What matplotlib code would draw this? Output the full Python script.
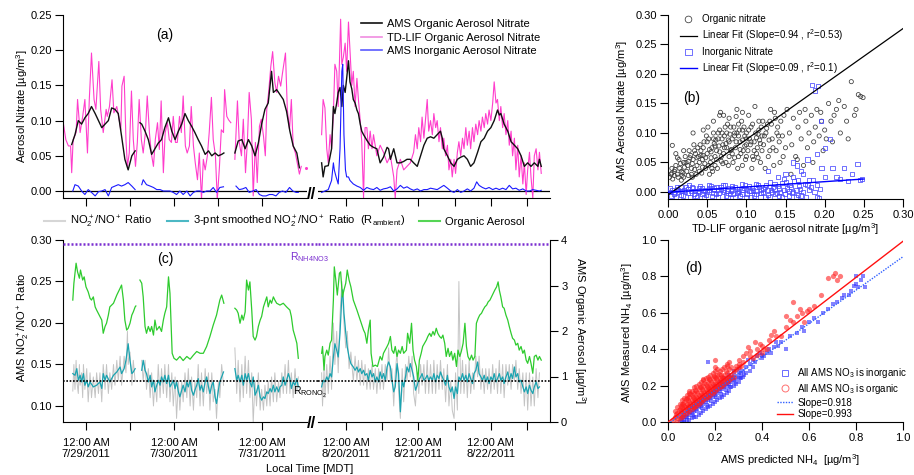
import numpy as np
import matplotlib
matplotlib.use('Agg')
import matplotlib.pyplot as plt
from matplotlib.lines import Line2D

plt.rcParams['font.family'] = ['Liberation Sans', 'DejaVu Sans']
plt.rcParams['mathtext.fontset'] = 'custom'
plt.rcParams['mathtext.rm'] = 'Liberation Sans'
plt.rcParams['mathtext.it'] = 'Liberation Sans:italic'
plt.rcParams['mathtext.bf'] = 'Liberation Sans:bold'
plt.rcParams['font.size'] = 8
plt.rcParams['axes.linewidth'] = 0.8

# ---------------- DATA ----------------
# times are hours relative to local midnight of first labelled day of each segment
left_tick_hours = [0, 12, 24, 36, 48]
left_tick_labels = ['12:00 AM\n7/29/2011', '', '12:00 AM\n7/30/2011', '', '12:00 AM\n7/31/2011']
right_tick_hours = [0, 12, 24, 36, 48, 60]
right_tick_labels = ['12:00 AM\n8/20/2011', '', '12:00 AM\n8/21/2011', '', '12:00 AM\n8/22/2011', '']

ams_org_left = [
    [(-3.9, 0.066), (-3.0, 0.080), (-2.1, 0.100), (-1.2, 0.095), (-0.3, 0.104), (0.6, 0.110), (1.5, 0.120),
     (2.5, 0.110), (3.4, 0.100), (4.3, 0.090), (5.2, 0.095), (6.1, 0.100), (7.0, 0.118), (7.9, 0.116),
     (8.8, 0.110), (9.7, 0.078), (10.6, 0.045), (11.5, 0.030), (12.5, 0.050), (13.4, 0.057)],
    [(14.7, 0.097), (15.2, 0.095), (16.1, 0.085), (17.0, 0.073), (17.9, 0.052), (18.8, 0.060), (19.7, 0.068),
     (20.6, 0.073), (21.5, 0.090), (22.5, 0.104), (23.4, 0.085), (24.3, 0.073), (25.2, 0.085), (26.1, 0.095),
     (27.0, 0.110), (27.9, 0.100), (28.8, 0.092), (29.7, 0.083), (30.6, 0.073), (31.5, 0.064), (32.5, 0.052),
     (33.4, 0.057), (34.3, 0.050), (35.2, 0.054), (36.1, 0.050), (37.0, 0.052), (37.6, 0.054)],
    [(40.6, 0.054), (41.5, 0.071), (42.5, 0.073), (43.4, 0.060), (44.3, 0.073), (45.2, 0.064), (46.1, 0.050),
     (47.0, 0.068), (47.9, 0.095), (48.8, 0.116), (49.7, 0.125), (50.6, 0.170), (51.1, 0.140), (52.0, 0.144),
     (52.9, 0.137), (53.8, 0.130), (54.7, 0.113), (55.6, 0.085), (56.5, 0.064), (57.5, 0.054), (58.2, 0.033)],
]
tdlif_left = [
    [(-6.2, 0.097), (-5.5, 0.073), (-4.8, 0.064), (-4.2, 0.064), (-3.9, 0.026), (-3.5, 0.073), (-2.7, 0.083),
     (-2.3, 0.130), (-1.6, 0.083), (-0.9, 0.106), (-0.3, 0.130), (0.4, 0.054), (0.9, 0.130), (1.5, 0.196),
     (2.2, 0.130), (2.7, 0.116), (3.5, 0.184), (4.0, 0.116), (4.7, 0.083), (5.5, 0.116), (5.8, 0.106),
     (6.4, 0.120), (7.1, 0.158), (7.6, 0.111), (8.4, 0.120), (8.9, 0.106), (9.5, 0.087), (9.8, 0.149),
     (10.4, 0.163), (10.9, 0.073), (11.3, 0.035), (11.8, 0.054), (12.4, 0.142), (12.9, 0.073), (13.5, 0.035),
     (14.0, 0.069), (14.5, 0.130), (15.1, 0.073), (15.6, 0.054), (16.2, 0.083), (16.7, 0.135), (17.3, 0.083),
     (17.8, 0.054), (18.4, 0.035), (18.9, 0.073), (19.5, 0.097), (20.0, 0.059), (20.5, 0.128), (21.1, 0.026),
     (21.6, 0.083), (22.2, 0.097), (22.7, 0.073), (23.3, 0.069), (23.8, 0.106), (24.4, 0.069), (24.9, 0.069),
     (25.5, 0.106), (26.0, 0.083), (26.5, 0.135), (27.1, 0.064), (27.6, 0.054), (28.2, 0.064), (28.7, 0.120),
     (29.3, 0.064), (29.8, 0.040), (30.4, 0.016), (30.9, 0.054), (31.5, -0.012), (32.0, 0.045), (32.5, 0.030),
     (33.1, 0.050), (33.6, 0.083), (34.2, 0.133), (34.7, 0.073), (35.3, 0.050), (35.8, -0.012), (36.4, 0.035),
     (36.9, 0.087), (37.5, 0.083), (37.8, 0.144), (38.4, 0.106), (38.9, 0.101), (39.5, 0.097)],
    [(40.6, 0.045), (41.3, 0.128), (41.8, 0.069), (42.4, 0.050), (42.9, 0.102), (43.5, 0.026), (44.0, 0.069),
     (44.5, 0.140), (45.1, 0.102), (45.6, -0.007), (46.2, 0.069), (46.7, 0.012), (47.3, 0.092), (47.8, 0.102),
     (48.4, 0.078), (48.9, 0.050), (49.3, 0.116), (49.8, 0.140), (50.4, 0.177), (50.9, 0.198), (51.5, 0.154),
     (52.0, 0.140), (52.5, 0.163), (53.1, 0.149), (53.6, 0.168), (54.4, 0.196), (54.9, 0.116), (55.5, 0.087),
     (56.0, 0.130), (56.5, 0.064), (57.1, 0.054), (57.6, 0.040), (58.2, 0.024), (58.7, 0.035)],
]
tdlif_left_dot = [(60.0, 0.033)]
ams_inorg_left = [
    [(-3.6, 0.000), (-3.0, 0.009), (-2.1, 0.007), (-1.2, 0.000), (-0.3, -0.005), (0.6, 0.002), (1.5, -0.002),
     (2.5, -0.007), (3.4, -0.001), (4.3, 0.000), (5.2, 0.002), (6.1, -0.007), (7.0, 0.005), (7.9, 0.007),
     (8.8, 0.009), (9.7, 0.007), (10.6, 0.009), (11.5, 0.012), (12.5, 0.007), (13.4, 0.002)],
    [(15.2, 0.009), (15.6, 0.016), (16.5, 0.009), (17.5, 0.007), (18.4, 0.005), (19.3, 0.002), (20.2, 0.002),
     (21.1, 0.000), (22.0, 0.000), (22.9, 0.000), (23.8, -0.002), (24.7, -0.005), (25.6, 0.000), (26.5, -0.005),
     (27.5, 0.000), (28.4, -0.007), (29.3, -0.002), (30.2, 0.000), (31.1, 0.000), (32.0, -0.002), (32.9, 0.000),
     (33.8, 0.000), (34.7, 0.005), (35.6, -0.002), (36.5, 0.005), (37.5, 0.006)],
    [(40.9, 0.007), (41.8, 0.002), (42.7, 0.003), (43.6, 0.005), (44.5, -0.002), (45.5, 0.000), (46.4, 0.002),
     (47.3, -0.005), (48.2, -0.007), (49.1, -0.007), (50.0, -0.005), (50.9, -0.005), (51.8, -0.007), (52.7, -0.002),
     (53.6, 0.000), (54.5, -0.002), (55.5, 0.005), (56.4, 0.000), (57.3, -0.002), (57.9, -0.002)],
]

ams_org_right = [[
    (-8.1, 0.040), (-7.6, 0.020), (-7.0, 0.035), (-5.9, 0.036), (-4.8, 0.060), (-4.2, 0.120), (-3.7, 0.110),
    (-3.1, 0.125), (-2.6, 0.140), (-2.0, 0.147), (-1.4, 0.120), (-0.9, 0.150), (-0.3, 0.140), (0.2, 0.160),
    (0.8, 0.185), (1.3, 0.155), (1.9, 0.145), (2.4, 0.130), (3.0, 0.125), (3.6, 0.115), (4.1, 0.110),
    (4.7, 0.095), (5.2, 0.085), (5.8, 0.080), (6.9, 0.072), (8.0, 0.065), (9.1, 0.062), (10.2, 0.060),
    (11.3, 0.040), (12.4, 0.048), (13.6, 0.062), (14.1, 0.060), (14.7, 0.045), (15.8, 0.060), (16.9, 0.040),
    (18.0, 0.040), (19.1, 0.042), (20.2, 0.045), (21.3, 0.045), (22.4, 0.040), (23.6, 0.035), (24.7, 0.050),
    (25.8, 0.065), (26.9, 0.075), (28.0, 0.077), (29.1, 0.075), (30.2, 0.080), (31.3, 0.085), (31.9, 0.075),
    (32.4, 0.060), (33.6, 0.050), (34.7, 0.040), (35.8, 0.035), (36.9, 0.045), (38.0, 0.048), (39.1, 0.050),
    (40.2, 0.045), (41.3, 0.035), (42.4, 0.040), (43.6, 0.055), (44.7, 0.070), (45.8, 0.075), (46.9, 0.085),
    (48.0, 0.090), (49.1, 0.100), (50.2, 0.115), (50.8, 0.108), (51.3, 0.110), (52.4, 0.095), (53.6, 0.085),
    (54.7, 0.070), (55.8, 0.065), (56.9, 0.060), (58.0, 0.050), (59.1, 0.035), (60.2, 0.040), (61.3, 0.035),
    (62.4, 0.040), (63.6, 0.035), (64.1, 0.045), (64.7, 0.035)]]
tdlif_right = [[
    (-8.1, 0.080), (-7.6, 0.130), (-7.0, 0.118), (-6.4, 0.060), (-5.9, 0.040), (-5.3, 0.080), (-4.8, 0.060),
    (-4.2, 0.110), (-3.7, 0.180), (-3.1, 0.170), (-2.6, 0.120), (-1.8, 0.244), (-1.4, 0.180), (-0.9, 0.190),
    (-0.3, 0.210), (0.2, 0.170), (0.8, 0.240), (1.3, 0.200), (1.9, 0.150), (2.4, 0.170), (3.0, 0.120),
    (3.6, 0.160), (4.1, 0.130), (4.7, 0.100), (5.2, 0.070), (5.8, -0.010), (6.3, 0.090), (6.9, 0.090),
    (7.4, 0.060), (8.0, 0.085), (8.6, 0.060), (9.1, 0.080), (10.2, 0.050), (11.3, 0.065), (12.4, 0.055),
    (13.6, 0.040), (14.7, 0.050), (15.8, 0.020), (16.3, -0.010), (16.9, 0.030), (18.0, 0.045), (19.1, 0.030),
    (20.2, 0.035), (21.3, 0.040), (22.4, 0.055), (23.0, 0.080), (23.6, 0.060), (24.1, 0.090), (24.7, 0.070),
    (25.2, 0.105), (25.8, 0.075), (26.3, 0.100), (26.9, 0.130), (27.4, 0.085), (28.0, 0.100), (28.6, 0.080),
    (29.1, 0.110), (29.7, 0.090), (30.2, 0.100), (30.8, 0.070), (31.3, 0.090), (31.9, 0.060), (32.4, 0.075),
    (33.0, 0.050), (33.6, 0.065), (34.1, 0.030), (34.7, 0.045), (35.2, 0.020), (35.8, 0.045), (36.3, 0.025),
    (36.9, 0.055), (37.4, 0.070), (38.0, 0.050), (38.6, 0.075), (39.1, 0.060), (39.7, 0.090), (40.2, 0.065),
    (40.8, 0.085), (41.3, 0.060), (41.9, 0.090), (42.4, 0.070), (43.0, 0.095), (43.6, 0.080), (44.1, 0.100),
    (44.7, 0.085), (45.2, 0.105), (45.8, 0.090), (46.3, 0.110), (46.9, 0.095), (47.4, 0.115), (48.0, 0.100),
    (48.6, 0.125), (49.1, 0.155), (49.7, 0.125), (50.2, 0.130), (50.8, 0.100), (51.3, 0.120), (51.9, 0.090),
    (52.4, 0.110), (53.0, 0.080), (53.6, 0.100), (54.1, 0.065), (54.7, 0.085), (55.2, 0.050), (55.8, 0.075),
    (56.3, 0.030), (56.9, 0.065), (57.4, 0.020), (58.0, 0.050), (58.6, 0.010), (59.1, 0.040), (59.7, -0.005),
    (60.2, 0.030), (60.8, 0.055), (61.3, 0.020), (61.9, -0.010), (62.4, 0.050), (63.0, 0.060), (63.6, 0.030),
    (64.1, 0.055), (64.7, 0.025)]]
ams_inorg_right = [[
    (-8.1, -0.002), (-7.0, 0.000), (-5.9, 0.002), (-4.8, 0.015), (-4.2, 0.040), (-3.9, 0.030), (-3.3, 0.020),
    (-2.6, 0.010), (-2.0, 0.060), (-1.4, 0.170), (-1.1, 0.180), (-0.7, 0.080), (-0.2, 0.030), (0.2, 0.020),
    (0.8, 0.020), (1.3, 0.015), (2.4, 0.010), (3.6, 0.007), (4.7, 0.005), (5.8, 0.001), (6.9, 0.005),
    (8.0, 0.003), (9.1, 0.002), (10.2, 0.005), (11.3, 0.001), (12.4, 0.003), (13.6, 0.004), (14.7, 0.006),
    (15.8, 0.000), (16.9, 0.003), (18.0, 0.008), (19.1, 0.004), (20.2, 0.006), (21.3, 0.003), (22.4, 0.001),
    (23.6, 0.003), (24.7, 0.000), (25.8, 0.002), (26.9, 0.002), (28.0, 0.004), (29.1, 0.003), (30.2, 0.002),
    (31.3, 0.005), (32.4, 0.008), (33.6, 0.004), (34.7, 0.000), (35.8, -0.002), (36.9, 0.002), (38.0, -0.002),
    (39.1, 0.000), (40.2, 0.003), (41.3, 0.000), (42.4, 0.004), (43.3, 0.013), (44.1, 0.008), (45.2, 0.005),
    (46.3, 0.003), (47.4, 0.005), (48.6, 0.002), (49.7, 0.004), (50.8, 0.002), (51.9, 0.004), (53.0, 0.002),
    (54.1, 0.008), (55.2, 0.003), (56.3, 0.004), (57.4, 0.001), (58.6, 0.003), (59.7, 0.000), (60.8, 0.000),
    (61.9, 0.002), (63.0, 0.001), (64.1, 0.000), (64.7, 0.001)]]

# panel (c)
oa_left = [
    [(-3.6, 2.68), (-3.3, 3.05), (-2.7, 3.49), (-2.3, 3.30), (-1.8, 3.16), (-1.5, 3.34), (-0.9, 3.12),
     (-0.5, 3.19), (0.0, 2.97), (0.6, 2.86), (1.1, 2.72), (1.5, 2.68), (2.0, 2.75), (2.5, 2.53), (2.9, 2.46),
     (3.6, 2.35), (4.3, 2.24), (4.7, 1.95), (5.2, 2.10), (5.6, 2.17), (6.1, 2.35), (6.5, 2.53), (7.5, 2.61),
     (8.4, 2.79), (9.3, 2.94), (9.7, 3.01), (10.2, 2.68), (10.6, 2.24), (11.1, 2.02), (11.5, 2.06), (12.0, 2.17),
     (12.5, 2.35), (12.9, 2.42), (13.4, 2.53), (13.6, 2.55)],
    [(14.7, 3.12), (15.2, 3.05), (15.6, 2.75), (16.1, 2.10), (16.5, 1.95), (17.0, 2.10), (17.5, 1.99),
     (17.9, 2.10), (18.4, 1.91), (18.8, 2.24), (19.3, 2.02), (20.0, 2.10), (20.6, 1.99), (21.1, 2.24),
     (21.5, 2.39), (22.0, 2.53), (22.5, 3.19), (22.9, 2.83), (23.1, 2.39), (23.5, 1.51), (24.0, 1.40),
     (24.7, 1.36), (25.6, 1.44), (26.5, 1.35), (27.5, 1.44), (28.4, 1.38), (29.3, 1.47), (30.2, 1.55),
     (31.1, 1.51), (32.0, 1.51), (32.9, 1.66), (33.8, 1.88), (34.7, 2.13), (35.6, 2.35), (36.5, 2.68),
     (37.0, 2.79), (37.6, 2.61)],
    [(40.6, 2.50), (41.1, 2.46), (41.5, 2.39), (42.0, 2.17), (42.5, 2.35), (42.9, 2.24), (43.4, 2.42),
     (43.8, 3.12), (44.3, 2.90), (44.7, 3.08), (45.2, 2.46), (45.6, 1.88), (46.1, 1.80), (46.5, 1.88),
     (47.0, 2.10), (47.5, 2.24), (47.9, 2.32), (48.4, 2.53), (49.3, 2.75), (49.7, 2.53), (50.2, 2.68),
     (50.6, 2.61), (51.1, 2.75), (51.5, 2.68), (52.0, 2.61), (52.9, 2.57), (53.8, 2.61), (54.7, 2.53),
     (55.6, 2.46), (56.0, 2.32), (56.5, 2.02), (57.0, 1.88), (57.5, 1.73), (57.9, 1.40)],
]
ratio_smooth_left = [
    [(-3.6, 0.139), (-3.0, 0.137), (-2.5, 0.145), (-2.1, 0.131), (-1.6, 0.137), (-1.2, 0.129), (-0.7, 0.139),
     (-0.3, 0.125), (0.2, 0.131), (0.6, 0.123), (1.1, 0.129), (2.0, 0.123), (2.9, 0.125), (3.8, 0.129),
     (4.3, 0.121), (4.7, 0.139), (5.2, 0.131), (5.6, 0.137), (6.5, 0.129), (7.5, 0.137), (8.4, 0.141),
     (9.3, 0.147), (9.7, 0.139), (10.4, 0.145), (10.9, 0.155), (11.5, 0.175), (12.0, 0.155), (12.5, 0.139),
     (12.9, 0.141), (13.4, 0.145)],
    [(15.2, 0.143), (15.6, 0.155), (16.1, 0.143), (16.5, 0.139), (17.0, 0.129), (17.5, 0.137), (17.9, 0.123),
     (18.4, 0.131), (18.8, 0.117), (19.3, 0.125), (19.7, 0.131), (20.2, 0.125), (20.6, 0.135), (21.1, 0.129),
     (21.5, 0.137), (22.0, 0.127), (22.5, 0.137), (22.9, 0.123), (23.4, 0.127), (23.8, 0.131), (24.3, 0.121),
     (24.7, 0.129), (25.2, 0.117), (25.6, 0.111), (26.1, 0.119), (26.5, 0.125), (27.0, 0.117), (27.5, 0.129),
     (27.9, 0.123), (28.4, 0.131), (28.8, 0.119), (29.3, 0.113), (29.7, 0.119), (30.2, 0.125), (30.6, 0.133),
     (31.1, 0.119), (31.5, 0.125), (32.0, 0.117), (32.5, 0.129), (32.9, 0.135), (33.4, 0.123), (33.8, 0.115),
     (34.3, 0.125), (34.7, 0.129), (35.2, 0.111), (35.6, 0.103), (36.1, 0.119), (36.5, 0.129), (37.0, 0.135),
     (37.5, 0.141)],
    [(40.6, 0.145), (41.1, 0.131), (41.5, 0.137), (42.0, 0.129), (42.5, 0.137), (42.9, 0.125), (43.4, 0.139),
     (43.8, 0.131), (44.3, 0.139), (44.7, 0.129), (45.2, 0.123), (45.6, 0.135), (46.1, 0.113), (46.5, 0.117),
     (47.0, 0.125), (47.5, 0.111), (47.9, 0.107), (48.4, 0.111), (48.8, 0.109), (49.3, 0.117), (49.7, 0.115),
     (50.2, 0.121), (50.6, 0.117), (51.1, 0.125), (51.5, 0.117), (52.0, 0.123), (52.5, 0.117), (52.9, 0.123),
     (53.4, 0.125), (53.8, 0.135), (54.3, 0.125), (54.7, 0.131), (55.2, 0.139), (55.6, 0.133), (56.0, 0.121),
     (56.5, 0.129), (57.0, 0.125), (57.5, 0.133), (57.9, 0.123)],
]
ratio_raw_left = [
    [(-3.6, 0.118), (-3.3, 0.150), (-3.0, 0.120), (-2.7, 0.155), (-2.5, 0.130), (-2.1, 0.115), (-1.8, 0.150),
     (-1.6, 0.125), (-1.2, 0.140), (-0.9, 0.110), (-0.7, 0.150), (-0.3, 0.120), (0.2, 0.145), (0.6, 0.105),
     (1.1, 0.140), (1.5, 0.110), (2.0, 0.135), (2.5, 0.110), (2.9, 0.140), (3.4, 0.115), (3.8, 0.140),
     (4.3, 0.105), (4.7, 0.150), (5.2, 0.120), (5.6, 0.150), (6.1, 0.115), (6.5, 0.140), (7.0, 0.120),
     (7.5, 0.150), (7.9, 0.125), (8.4, 0.155), (8.8, 0.130), (9.3, 0.160), (9.7, 0.125), (10.4, 0.160),
     (10.9, 0.140), (11.3, 0.190), (11.5, 0.150), (12.0, 0.165), (12.5, 0.125), (12.9, 0.155), (13.4, 0.130)],
    [(15.2, 0.155), (15.6, 0.130), (16.1, 0.155), (16.5, 0.120), (17.0, 0.145), (17.5, 0.110), (17.9, 0.140),
     (18.4, 0.100), (18.8, 0.130), (19.3, 0.105), (19.7, 0.150), (20.2, 0.110), (20.6, 0.145), (21.1, 0.115),
     (21.5, 0.150), (22.0, 0.110), (22.5, 0.150), (22.9, 0.105), (23.4, 0.140), (23.8, 0.100), (24.3, 0.135),
     (24.7, 0.085), (25.2, 0.130), (25.6, 0.095), (26.1, 0.130), (26.5, 0.105), (27.0, 0.140), (27.5, 0.110),
     (27.9, 0.145), (28.4, 0.100), (28.8, 0.135), (29.3, 0.095), (29.7, 0.130), (30.2, 0.110), (30.6, 0.150),
     (31.1, 0.100), (31.5, 0.140), (32.0, 0.100), (32.5, 0.145), (32.9, 0.115), (33.4, 0.140), (33.8, 0.095),
     (34.3, 0.140), (34.7, 0.105), (35.2, 0.120), (35.6, 0.085), (36.1, 0.130), (36.5, 0.110), (37.0, 0.150),
     (37.5, 0.125)],
    [(40.6, 0.170), (41.1, 0.115), (41.5, 0.155), (42.0, 0.105), (42.5, 0.150), (42.9, 0.110), (43.4, 0.160),
     (43.8, 0.115), (44.3, 0.155), (44.7, 0.110), (45.2, 0.140), (45.6, 0.080), (46.1, 0.130), (46.5, 0.100),
     (47.0, 0.140), (47.5, 0.095), (47.9, 0.120), (48.4, 0.095), (48.8, 0.125), (49.3, 0.100), (49.7, 0.130),
     (50.2, 0.100), (50.6, 0.135), (51.1, 0.105), (51.5, 0.140), (52.0, 0.105), (52.5, 0.130), (52.9, 0.110),
     (53.4, 0.140), (53.8, 0.115), (54.3, 0.150), (54.7, 0.115), (55.2, 0.155), (55.6, 0.115), (56.0, 0.140),
     (56.5, 0.110), (57.0, 0.145), (57.5, 0.115), (57.9, 0.135)],
]
oa_right = [[
    (-8.1, 1.51), (-7.8, 1.66), (-7.3, 1.14), (-7.0, 1.44), (-6.4, 1.58), (-5.9, 1.47), (-5.3, 1.73),
    (-4.8, 1.80), (-4.2, 2.68), (-3.9, 3.41), (-3.4, 3.12), (-2.9, 2.79), (-2.2, 3.27), (-1.8, 3.30),
    (-1.2, 2.75), (-0.7, 2.90), (-0.1, 3.05), (0.4, 3.34), (1.0, 3.12), (1.6, 2.97), (2.4, 2.68), (3.6, 2.46),
    (4.7, 2.24), (5.8, 2.02), (6.3, 1.95), (6.9, 1.73), (7.4, 2.02), (8.0, 2.24), (8.3, 1.51), (8.9, 1.22),
    (9.7, 1.25), (10.4, 1.22), (11.3, 1.44), (11.9, 1.36), (12.4, 1.51), (13.6, 1.66), (14.1, 1.73),
    (14.7, 1.88), (15.2, 1.58), (15.8, 1.51), (16.3, 1.66), (16.9, 1.44), (17.4, 1.58), (18.0, 1.51),
    (18.6, 1.66), (19.1, 1.51), (20.0, 1.58), (20.4, 1.95), (21.1, 1.73), (21.7, 2.17), (22.2, 1.58),
    (22.7, 1.36), (23.3, 1.22), (23.8, 0.92), (24.3, 1.36), (24.9, 1.51), (25.4, 1.66), (26.0, 1.73),
    (26.6, 1.80), (27.1, 1.88), (27.7, 1.95), (28.2, 1.88), (28.8, 1.99), (29.3, 1.91), (29.9, 2.06),
    (30.4, 1.95), (31.0, 1.88), (31.6, 1.84), (32.1, 1.91), (32.7, 1.73), (33.2, 1.44), (33.8, 1.62),
    (34.3, 1.44), (34.9, 1.55), (35.4, 1.36), (36.0, 1.51), (36.6, 1.22), (37.1, 1.58), (37.7, 1.44),
    (38.2, 1.55), (38.8, 1.73), (39.4, 2.17), (39.9, 1.66), (40.4, 1.44), (41.0, 1.36), (41.6, 1.47),
    (42.1, 1.36), (42.7, 1.44), (43.2, 2.17), (43.8, 2.28), (44.3, 2.35), (44.9, 2.39), (45.4, 2.46),
    (46.0, 2.53), (46.6, 2.57), (47.1, 2.64), (47.7, 2.68), (48.2, 2.75), (48.8, 2.83), (49.3, 2.90),
    (49.9, 2.97), (50.4, 3.08), (50.8, 2.90), (51.3, 2.75), (51.9, 2.53), (52.4, 2.50), (53.0, 2.35),
    (53.6, 2.24), (54.1, 2.10), (54.7, 1.95), (55.2, 1.84), (55.8, 1.80), (56.3, 1.69), (56.9, 1.73),
    (57.4, 1.58), (58.0, 1.66), (58.6, 1.51), (59.1, 1.58), (59.7, 1.36), (60.2, 1.29), (60.8, 1.44),
    (61.3, 1.29), (61.9, 1.07), (62.4, 1.44), (63.0, 1.47), (63.6, 1.36), (64.1, 1.44), (64.7, 1.36)]]
ratio_smooth_right = [[
    (-8.1, 0.123), (-7.6, 0.131), (-7.0, 0.129), (-6.4, 0.135), (-5.9, 0.131), (-5.3, 0.139), (-4.8, 0.135),
    (-4.2, 0.159), (-3.7, 0.175), (-3.1, 0.167), (-2.6, 0.159), (-2.0, 0.188), (-1.4, 0.232), (-1.1, 0.240),
    (-0.7, 0.212), (-0.1, 0.188), (0.4, 0.171), (1.0, 0.159), (1.6, 0.151), (2.4, 0.147), (3.0, 0.143),
    (3.6, 0.147), (4.1, 0.141), (4.7, 0.145), (5.2, 0.139), (5.8, 0.143), (6.3, 0.137), (6.9, 0.139),
    (7.4, 0.131), (8.0, 0.143), (8.6, 0.135), (9.1, 0.139), (9.7, 0.129), (10.2, 0.135), (10.8, 0.129),
    (11.3, 0.141), (11.9, 0.133), (12.4, 0.139), (13.0, 0.131), (13.6, 0.147), (14.1, 0.153), (14.7, 0.147),
    (15.2, 0.131), (15.8, 0.117), (16.3, 0.123), (16.9, 0.151), (17.4, 0.139), (18.0, 0.093), (18.6, 0.131),
    (19.1, 0.123), (19.7, 0.135), (20.2, 0.147), (20.8, 0.141), (21.3, 0.151), (21.9, 0.143), (22.4, 0.135),
    (23.0, 0.119), (23.6, 0.125), (24.1, 0.131), (24.7, 0.135), (25.2, 0.139), (25.8, 0.131), (26.3, 0.133),
    (26.9, 0.137), (27.4, 0.131), (28.0, 0.135), (28.6, 0.131), (29.1, 0.139), (29.7, 0.129), (30.2, 0.137),
    (30.8, 0.133), (31.3, 0.141), (31.9, 0.135), (32.4, 0.131), (33.0, 0.125), (33.6, 0.137), (34.1, 0.123),
    (34.7, 0.117), (35.2, 0.123), (35.8, 0.109), (36.3, 0.123), (36.9, 0.115), (37.4, 0.135), (38.0, 0.131),
    (38.6, 0.139), (39.1, 0.131), (39.7, 0.137), (40.2, 0.129), (40.8, 0.139), (41.3, 0.133), (41.9, 0.127),
    (42.4, 0.139), (43.0, 0.143), (43.6, 0.153), (44.1, 0.139), (44.7, 0.135), (45.2, 0.131), (45.8, 0.137),
    (46.3, 0.129), (46.9, 0.135), (47.4, 0.127), (48.0, 0.135), (48.6, 0.131), (49.1, 0.139), (49.7, 0.129),
    (50.2, 0.133), (50.8, 0.139), (51.3, 0.131), (51.9, 0.135), (52.4, 0.127), (53.0, 0.135), (53.6, 0.141),
    (54.1, 0.131), (54.7, 0.139), (55.2, 0.133), (55.8, 0.147), (56.3, 0.135), (56.9, 0.139), (57.4, 0.129),
    (58.0, 0.131), (58.6, 0.123), (59.1, 0.117), (59.7, 0.123), (60.2, 0.115), (60.8, 0.125), (61.3, 0.119),
    (61.9, 0.115), (62.4, 0.123), (63.0, 0.129), (63.6, 0.121), (64.1, 0.123)]]
ratio_raw_right = [[
    (-8.1, 0.140), (-7.8, 0.100), (-7.3, 0.145), (-7.0, 0.110), (-6.4, 0.150), (-5.9, 0.115), (-5.3, 0.160),
    (-4.8, 0.120), (-4.2, 0.200), (-3.7, 0.150), (-3.1, 0.190), (-2.6, 0.140), (-2.0, 0.210), (-1.4, 0.250),
    (-1.1, 0.230), (-0.7, 0.200), (-0.1, 0.170), (0.4, 0.190), (1.0, 0.145), (1.6, 0.165), (2.4, 0.130),
    (3.0, 0.160), (3.6, 0.130), (4.1, 0.155), (4.7, 0.125), (5.2, 0.155), (5.8, 0.125), (6.3, 0.150),
    (6.9, 0.120), (7.4, 0.145), (8.0, 0.120), (8.6, 0.150), (9.1, 0.120), (9.7, 0.145), (10.2, 0.115),
    (10.8, 0.145), (11.3, 0.120), (11.9, 0.150), (12.4, 0.120), (13.0, 0.150), (13.6, 0.130), (14.1, 0.170),
    (14.7, 0.130), (15.2, 0.145), (15.8, 0.100), (16.3, 0.140), (16.9, 0.165), (17.4, 0.120), (18.0, 0.085),
    (18.6, 0.145), (19.1, 0.105), (19.7, 0.150), (20.2, 0.130), (20.8, 0.160), (21.3, 0.135), (21.9, 0.160),
    (22.4, 0.115), (23.0, 0.100), (23.6, 0.140), (24.1, 0.115), (24.7, 0.150), (25.2, 0.125), (25.8, 0.150),
    (26.3, 0.115), (26.9, 0.155), (27.4, 0.115), (28.0, 0.150), (28.6, 0.115), (29.1, 0.155), (29.7, 0.115),
    (30.2, 0.150), (30.8, 0.120), (31.3, 0.155), (31.9, 0.120), (32.4, 0.145), (33.0, 0.105), (33.6, 0.150),
    (34.1, 0.100), (34.7, 0.130), (35.2, 0.095), (35.8, 0.085), (36.3, 0.140), (36.9, 0.095), (37.4, 0.250),
    (38.0, 0.115), (38.6, 0.155), (39.1, 0.115), (39.7, 0.150), (40.2, 0.110), (40.8, 0.155), (41.3, 0.115),
    (41.9, 0.140), (42.4, 0.120), (43.0, 0.160), (43.6, 0.135), (44.1, 0.160), (44.7, 0.120), (45.2, 0.145),
    (45.8, 0.115), (46.3, 0.145), (46.9, 0.120), (47.4, 0.145), (48.0, 0.115), (48.6, 0.150), (49.1, 0.120),
    (49.7, 0.145), (50.2, 0.115), (50.8, 0.155), (51.3, 0.115), (51.9, 0.150), (52.4, 0.110), (53.0, 0.150),
    (53.6, 0.125), (54.1, 0.150), (54.7, 0.120), (55.2, 0.150), (55.8, 0.130), (56.3, 0.155), (56.9, 0.120),
    (57.4, 0.145), (58.0, 0.115), (58.6, 0.140), (59.1, 0.100), (59.7, 0.140), (60.2, 0.095), (60.8, 0.140),
    (61.3, 0.100), (61.9, 0.135), (62.4, 0.100), (63.0, 0.145), (63.6, 0.110), (64.1, 0.140)]]
r_nh4no3 = 0.295
r_rono2 = 0.13

# panel (b) scatter: (TD-LIF organic nitrate, AMS nitrate)
org_nitrate_pts = [
    (0.002, 0.025), (0.004, 0.030), (0.006, 0.022), (0.008, 0.035), (0.0055, 0.079), (0.010, 0.065), (0.012, 0.030),
    (0.015, 0.040), (0.018, 0.028), (0.020, 0.050), (0.010, 0.045), (0.005, 0.040), (0.014, 0.055), (0.017, 0.035),
    (0.020, 0.025), (0.008, 0.028), (0.022, 0.060), (0.025, 0.045), (0.027, 0.070), (0.030, 0.040), (0.032, 0.055),
    (0.035, 0.065), (0.036, 0.030), (0.038, 0.075), (0.040, 0.050), (0.024, 0.035), (0.029, 0.062), (0.033, 0.080),
    (0.037, 0.045), (0.031, 0.025), (0.026, 0.052), (0.039, 0.060), (0.021, 0.042), (0.034, 0.038), (0.042, 0.070),
    (0.044, 0.055), (0.046, 0.085), (0.048, 0.040), (0.050, 0.065), (0.052, 0.090), (0.054, 0.050), (0.056, 0.075),
    (0.058, 0.100), (0.060, 0.060), (0.043, 0.032), (0.047, 0.048), (0.051, 0.110), (0.053, 0.072), (0.057, 0.035),
    (0.059, 0.082), (0.045, 0.062), (0.055, 0.058), (0.049, 0.095), (0.041, 0.080), (0.060, 0.045), (0.053, 0.030),
    (0.062, 0.070), (0.064, 0.090), (0.066, 0.105), (0.068, 0.060), (0.070, 0.080), (0.072, 0.095), (0.074, 0.050),
    (0.076, 0.115), (0.078, 0.085), (0.080, 0.070), (0.063, 0.040), (0.067, 0.135), (0.069, 0.100), (0.071, 0.065),
    (0.073, 0.110), (0.075, 0.075), (0.077, 0.045), (0.079, 0.098), (0.065, 0.078), (0.071, 0.130), (0.061, 0.088),
    (0.074, 0.082), (0.078, 0.060), (0.068, 0.052), (0.082, 0.090), (0.084, 0.110), (0.086, 0.075), (0.088, 0.100),
    (0.090, 0.060), (0.092, 0.085), (0.094, 0.120), (0.096, 0.070), (0.098, 0.095), (0.100, 0.080), (0.083, 0.050),
    (0.087, 0.128), (0.089, 0.040), (0.091, 0.105), (0.093, 0.065), (0.095, 0.088), (0.097, 0.110), (0.099, 0.055),
    (0.085, 0.095), (0.081, 0.072), (0.090, 0.115), (0.100, 0.100), (0.095, 0.045), (0.102, 0.070), (0.104, 0.090),
    (0.106, 0.110), (0.108, 0.060), (0.110, 0.085), (0.112, 0.100), (0.114, 0.075), (0.116, 0.120), (0.118, 0.050),
    (0.120, 0.095), (0.103, 0.130), (0.107, 0.040), (0.111, 0.145), (0.113, 0.065), (0.117, 0.088), (0.119, 0.110),
    (0.105, 0.080), (0.115, 0.098), (0.109, 0.055), (0.120, 0.070), (0.122, 0.080), (0.125, 0.100), (0.128, 0.060),
    (0.130, 0.120), (0.133, 0.090), (0.136, 0.135), (0.138, 0.070), (0.140, 0.110), (0.143, 0.050), (0.146, 0.095),
    (0.148, 0.130), (0.150, 0.075), (0.124, 0.040), (0.131, 0.140), (0.135, 0.045), (0.142, 0.085), (0.147, 0.060),
    (0.127, 0.115), (0.139, 0.100), (0.152, 0.140), (0.155, 0.100), (0.158, 0.080), (0.160, 0.125), (0.163, 0.060),
    (0.166, 0.110), (0.168, 0.135), (0.170, 0.090), (0.173, 0.045), (0.176, 0.120), (0.178, 0.075), (0.180, 0.100),
    (0.183, 0.130), (0.186, 0.085), (0.188, 0.110), (0.190, 0.140), (0.193, 0.095), (0.196, 0.120), (0.198, 0.070),
    (0.200, 0.105), (0.157, 0.030), (0.165, 0.055), (0.175, 0.140), (0.185, 0.050), (0.195, 0.135), (0.205, 0.150),
    (0.208, 0.120), (0.212, 0.130), (0.215, 0.140), (0.220, 0.100), (0.225, 0.145), (0.230, 0.090), (0.234, 0.187),
    (0.238, 0.130), (0.240, 0.140), (0.243, 0.165), (0.246, 0.162), (0.249, 0.160), (0.210, 0.085), (0.202, 0.090),
    (0.218, 0.155), (0.228, 0.120),
    (0.005, 0.032), (0.009, 0.038), (0.013, 0.025), (0.016, 0.048), (0.019, 0.033), (0.023, 0.050), (0.026, 0.028),
    (0.028, 0.058), (0.031, 0.048), (0.034, 0.070), (0.037, 0.058), (0.040, 0.035), (0.042, 0.062), (0.045, 0.075),
    (0.048, 0.058), (0.050, 0.085), (0.052, 0.045), (0.055, 0.068), (0.058, 0.090), (0.060, 0.078), (0.062, 0.055),
    (0.064, 0.100), (0.066, 0.068), (0.069, 0.090), (0.072, 0.075), (0.075, 0.100), (0.077, 0.088), (0.080, 0.110),
    (0.082, 0.065), (0.085, 0.100), (0.087, 0.085), (0.090, 0.095), (0.092, 0.072), (0.095, 0.105), (0.098, 0.078),
    (0.100, 0.090), (0.103, 0.105), (0.106, 0.085), (0.108, 0.115), (0.110, 0.070), (0.113, 0.092), (0.116, 0.105),
    (0.118, 0.082), (0.121, 0.120), (0.123, 0.095), (0.126, 0.108), (0.129, 0.088), (0.132, 0.115), (0.134, 0.075),
    (0.137, 0.125), (0.141, 0.095), (0.144, 0.120), (0.032, 0.100), (0.045, 0.105), (0.058, 0.120), (0.066, 0.130),
    (0.078, 0.125), (0.088, 0.140), (0.095, 0.135), (0.012, 0.058), (0.020, 0.070), (0.017, 0.020), (0.030, 0.030),
    (0.044, 0.042), (0.056, 0.040), (0.070, 0.048), (0.085, 0.058), (0.100, 0.060), (0.115, 0.058), (0.130, 0.070)]
inorg_nitrate_pts = [
    (0.002, 0.000), (0.005, 0.003), (0.008, -0.003), (0.011, 0.005), (0.014, 0.000), (0.017, -0.005), (0.020, 0.004),
    (0.023, 0.008), (0.026, -0.002), (0.029, 0.002), (0.032, 0.006), (0.035, -0.006), (0.038, 0.001), (0.041, 0.010),
    (0.044, -0.003), (0.047, 0.004), (0.050, 0.000), (0.053, 0.007), (0.056, -0.007), (0.059, 0.003), (0.062, 0.009),
    (0.065, -0.002), (0.068, 0.005), (0.071, 0.000), (0.074, -0.006), (0.077, 0.006), (0.080, 0.002), (0.083, -0.004),
    (0.086, 0.008), (0.089, 0.000), (0.092, -0.007), (0.095, 0.004), (0.098, 0.011), (0.101, -0.003), (0.104, 0.002),
    (0.107, 0.007), (0.110, -0.006), (0.113, 0.001), (0.116, 0.009), (0.119, -0.002), (0.122, 0.005), (0.125, 0.012),
    (0.128, -0.005), (0.131, 0.003), (0.134, 0.008), (0.137, -0.003), (0.140, 0.010), (0.143, 0.000), (0.146, 0.015),
    (0.149, -0.004), (0.152, 0.006), (0.155, 0.012), (0.158, -0.002), (0.161, 0.018), (0.164, 0.003), (0.167, 0.010),
    (0.170, -0.006), (0.175, 0.014), (0.180, 0.004), (0.185, 0.020), (0.190, -0.008), (0.193, -0.010),
    (0.004, -0.006), (0.012, 0.008), (0.018, 0.002), (0.027, 0.012), (0.033, -0.004), (0.040, 0.006), (0.046, -0.008),
    (0.052, 0.012), (0.058, -0.002), (0.064, 0.004), (0.070, 0.011), (0.076, -0.009), (0.082, 0.006), (0.088, -0.002),
    (0.094, 0.013), (0.100, 0.005), (0.106, -0.008), (0.112, 0.014), (0.118, 0.004), (0.124, -0.008), (0.130, 0.016),
    (0.136, 0.006), (0.142, -0.007), (0.148, 0.022), (0.154, 0.001), (0.160, 0.025), (0.166, -0.005), (0.172, 0.030),
    (0.178, 0.012), (0.184, 0.182), (0.188, 0.172), (0.192, 0.180), (0.195, 0.120), (0.200, 0.075), (0.207, 0.090),
    (0.128, 0.035), (0.160, 0.050), (0.165, 0.045), (0.178, 0.055), (0.200, 0.025), (0.210, 0.040), (0.215, 0.025),
    (0.235, 0.030), (0.242, 0.047), (0.245, 0.020), (0.220, 0.022), (0.230, 0.018), (0.248, 0.022), (0.190, 0.065),
    (0.196, 0.040), (0.225, 0.040), (0.150, 0.030), (0.140, 0.025), (0.170, 0.035),
    (0.003, 0.006), (0.007, 0.000), (0.010, -0.008), (0.013, 0.004), (0.016, 0.009), (0.019, -0.006), (0.022, 0.000),
    (0.025, 0.005), (0.028, -0.008), (0.031, 0.009), (0.034, 0.002), (0.037, -0.009), (0.040, 0.000), (0.043, 0.007),
    (0.046, 0.001), (0.049, -0.005), (0.052, 0.003), (0.055, 0.010), (0.058, 0.006), (0.061, -0.004), (0.064, -0.009),
    (0.067, 0.008), (0.070, 0.003), (0.073, 0.012), (0.076, 0.001), (0.079, -0.004), (0.082, 0.010), (0.085, -0.008),
    (0.088, 0.005), (0.091, 0.002), (0.094, -0.004), (0.097, 0.007), (0.100, -0.009), (0.103, 0.010), (0.106, 0.001),
    (0.109, 0.004), (0.112, -0.004), (0.115, 0.012), (0.118, -0.008), (0.121, 0.000), (0.124, 0.009), (0.127, 0.004),
    (0.130, -0.009), (0.133, 0.000), (0.136, 0.013), (0.139, -0.002), (0.142, 0.006), (0.145, -0.008), (0.148, 0.003),
    (0.151, 0.016), (0.154, -0.007), (0.157, 0.009), (0.160, 0.000), (0.163, -0.008), (0.166, 0.020), (0.169, 0.005),
    (0.172, 0.000), (0.176, -0.008), (0.180, 0.020), (0.183, 0.008), (0.187, 0.000), (0.190, 0.012), (0.194, 0.005)]
fit_org = (0.94, -0.005)       # slope, intercept
fit_org_range = (0.0, 0.30)
fit_inorg = (0.09, -0.0005)
fit_inorg_range = (0.0, 0.25)

# panel (d) scatter: (predicted NH4, measured NH4)
nh4_organic_pts = [
    (0.02, 0.01), (0.03, 0.03), (0.04, 0.02), (0.04, 0.05), (0.05, 0.04), (0.05, 0.07), (0.06, 0.05), (0.06, 0.08),
    (0.07, 0.06), (0.07, 0.09), (0.07, 0.11), (0.08, 0.07), (0.08, 0.10), (0.08, 0.13), (0.09, 0.08), (0.09, 0.11),
    (0.09, 0.14), (0.10, 0.09), (0.10, 0.12), (0.10, 0.15), (0.11, 0.10), (0.11, 0.13), (0.11, 0.16), (0.12, 0.11),
    (0.12, 0.14), (0.12, 0.17), (0.13, 0.12), (0.13, 0.15), (0.13, 0.18), (0.14, 0.13), (0.14, 0.16), (0.14, 0.19),
    (0.15, 0.14), (0.15, 0.17), (0.15, 0.20), (0.16, 0.15), (0.16, 0.18), (0.16, 0.21), (0.17, 0.16), (0.17, 0.19),
    (0.17, 0.22), (0.18, 0.17), (0.18, 0.20), (0.18, 0.23), (0.19, 0.18), (0.19, 0.21), (0.19, 0.24), (0.20, 0.19),
    (0.20, 0.22), (0.20, 0.25), (0.21, 0.20), (0.21, 0.23), (0.21, 0.26), (0.22, 0.21), (0.22, 0.24), (0.23, 0.22),
    (0.23, 0.25), (0.24, 0.23), (0.24, 0.26), (0.25, 0.24), (0.25, 0.27), (0.26, 0.25), (0.27, 0.26), (0.28, 0.28),
    (0.29, 0.29), (0.30, 0.30), (0.035, 0.045), (0.055, 0.06), (0.065, 0.07), (0.075, 0.08), (0.085, 0.09),
    (0.095, 0.10), (0.105, 0.11), (0.115, 0.12), (0.125, 0.13), (0.135, 0.14), (0.145, 0.15), (0.155, 0.16),
    (0.165, 0.17), (0.175, 0.18), (0.185, 0.19), (0.195, 0.20), (0.205, 0.21), (0.215, 0.22), (0.225, 0.23),
    (0.235, 0.24), (0.065, 0.10), (0.085, 0.12), (0.105, 0.14), (0.125, 0.16), (0.145, 0.18), (0.165, 0.20),
    (0.185, 0.22), (0.205, 0.24), (0.225, 0.26), (0.245, 0.28), (0.04, 0.08), (0.06, 0.12), (0.09, 0.17),
    (0.15, 0.235), (0.20, 0.28), (0.27, 0.30), (0.32, 0.33), (0.35, 0.36), (0.38, 0.40), (0.40, 0.42), (0.42, 0.40),
    (0.30, 0.34), (0.33, 0.38), (0.36, 0.35), (0.43, 0.45), (0.45, 0.50), (0.48, 0.47), (0.50, 0.52), (0.53, 0.55),
    (0.55, 0.58), (0.57, 0.60), (0.56, 0.62), (0.58, 0.55), (0.60, 0.62), (0.62, 0.64), (0.70, 0.80), (0.71, 0.82),
    (0.72, 0.78), (0.73, 0.80), (0.68, 0.79), (0.26, 0.33), (0.20, 0.34), (0.25, 0.32), (0.53, 0.66), (0.50, 0.58),
    (0.37, 0.44), (0.34, 0.41),
    (0.03, 0.06), (0.04, 0.00), (0.05, 0.10), (0.05, 0.02), (0.06, 0.03), (0.06, 0.10), (0.07, 0.04), (0.07, 0.13),
    (0.08, 0.05), (0.08, 0.15), (0.09, 0.06), (0.09, 0.16), (0.10, 0.07), (0.10, 0.17), (0.11, 0.08), (0.11, 0.19),
    (0.12, 0.09), (0.12, 0.20), (0.13, 0.10), (0.13, 0.21), (0.14, 0.11), (0.14, 0.22), (0.15, 0.12), (0.15, 0.23),
    (0.16, 0.13), (0.16, 0.24), (0.17, 0.14), (0.17, 0.25), (0.18, 0.15), (0.18, 0.26), (0.19, 0.16), (0.19, 0.27),
    (0.20, 0.17), (0.20, 0.30), (0.21, 0.18), (0.21, 0.29), (0.22, 0.19), (0.22, 0.28), (0.23, 0.20), (0.23, 0.29),
    (0.24, 0.21), (0.24, 0.30), (0.25, 0.22), (0.25, 0.31), (0.26, 0.23), (0.26, 0.29), (0.27, 0.24), (0.28, 0.25),
    (0.29, 0.31), (0.31, 0.31), (0.115, 0.175), (0.135, 0.195), (0.155, 0.215), (0.175, 0.235), (0.195, 0.255),
    (0.215, 0.265), (0.095, 0.155), (0.075, 0.125), (0.055, 0.09), (0.045, 0.065), (0.105, 0.085), (0.125, 0.105),
    (0.145, 0.125), (0.165, 0.145), (0.185, 0.165), (0.205, 0.185), (0.225, 0.205), (0.245, 0.235), (0.32, 0.36),
    (0.35, 0.39), (0.39, 0.43), (0.41, 0.40), (0.44, 0.48), (0.46, 0.47), (0.52, 0.56), (0.59, 0.61), (0.65, 0.70),
    (0.40, 0.38), (0.38, 0.37), (0.30, 0.32)]
nh4_inorganic_pts = [
    (0.05, 0.00), (0.06, 0.02), (0.07, 0.01), (0.07, 0.04), (0.08, 0.03), (0.08, 0.05), (0.09, 0.04), (0.09, 0.07),
    (0.10, 0.05), (0.10, 0.08), (0.11, 0.06), (0.11, 0.09), (0.12, 0.07), (0.12, 0.10), (0.13, 0.08), (0.13, 0.11),
    (0.14, 0.09), (0.14, 0.12), (0.15, 0.10), (0.15, 0.13), (0.16, 0.11), (0.16, 0.14), (0.17, 0.12), (0.17, 0.15),
    (0.18, 0.13), (0.18, 0.16), (0.19, 0.14), (0.19, 0.17), (0.20, 0.15), (0.20, 0.18), (0.21, 0.16), (0.21, 0.19),
    (0.22, 0.17), (0.22, 0.20), (0.23, 0.18), (0.23, 0.21), (0.24, 0.19), (0.24, 0.22), (0.25, 0.20), (0.25, 0.23),
    (0.26, 0.21), (0.26, 0.24), (0.27, 0.22), (0.27, 0.25), (0.28, 0.23), (0.28, 0.26), (0.29, 0.24), (0.30, 0.25),
    (0.30, 0.27), (0.31, 0.27), (0.32, 0.28), (0.055, 0.015), (0.065, 0.03), (0.075, 0.025), (0.085, 0.06),
    (0.095, 0.055), (0.105, 0.065), (0.115, 0.08), (0.125, 0.09), (0.135, 0.10), (0.145, 0.11), (0.155, 0.12),
    (0.165, 0.13), (0.175, 0.14), (0.185, 0.15), (0.195, 0.16), (0.205, 0.17), (0.215, 0.18), (0.225, 0.19),
    (0.235, 0.20), (0.245, 0.21), (0.255, 0.22), (0.265, 0.23), (0.275, 0.24), (0.33, 0.30), (0.35, 0.32),
    (0.37, 0.33), (0.38, 0.36), (0.40, 0.35), (0.42, 0.38), (0.43, 0.40), (0.45, 0.41), (0.47, 0.42), (0.50, 0.40),
    (0.34, 0.34), (0.36, 0.30), (0.39, 0.38), (0.41, 0.36), (0.44, 0.38), (0.46, 0.44), (0.55, 0.49), (0.58, 0.50),
    (0.60, 0.55), (0.62, 0.57), (0.64, 0.55), (0.66, 0.60), (0.68, 0.62), (0.70, 0.65), (0.72, 0.66), (0.75, 0.70),
    (0.78, 0.72), (0.80, 0.76), (0.82, 0.78), (0.83, 0.80), (0.80, 0.80), (0.84, 0.74), (0.17, 0.33),
    (0.06, 0.00), (0.07, 0.00), (0.08, 0.01), (0.09, 0.01), (0.10, 0.02), (0.11, 0.03), (0.12, 0.03), (0.13, 0.04),
    (0.14, 0.05), (0.15, 0.06), (0.16, 0.07), (0.17, 0.08), (0.18, 0.09), (0.19, 0.10), (0.20, 0.11), (0.21, 0.12),
    (0.22, 0.13), (0.23, 0.14), (0.24, 0.15), (0.25, 0.16), (0.26, 0.17), (0.27, 0.19), (0.28, 0.20), (0.29, 0.21),
    (0.30, 0.22), (0.31, 0.24), (0.32, 0.25), (0.33, 0.27), (0.105, 0.04), (0.125, 0.06), (0.145, 0.075),
    (0.165, 0.095), (0.185, 0.115), (0.205, 0.135), (0.225, 0.155), (0.245, 0.175), (0.265, 0.195), (0.285, 0.22),
    (0.305, 0.24), (0.325, 0.26), (0.20, 0.20), (0.22, 0.22), (0.24, 0.24), (0.26, 0.26), (0.28, 0.28), (0.30, 0.29),
    (0.35, 0.28), (0.36, 0.34), (0.40, 0.37), (0.48, 0.44), (0.52, 0.47), (0.57, 0.52), (0.74, 0.68), (0.77, 0.70),
    (0.81, 0.74), (0.79, 0.75)]
fit_nh4_inorg = (0.918, -0.01)
fit_nh4_inorg_range = (0.01, 1.0)
fit_nh4_org = (0.993, 0.0)
fit_nh4_org_range = (0.0, 1.0)

# ---------------- STYLE ----------------
W, H = 914, 475
C_BLACK = '#111111'
C_PINK = '#ff3dcc'
C_BLUE = '#1a1aff'
C_GRAY = '#c4c4c4'
C_TEAL = '#1ba3b0'
C_GREEN = '#2ecb2e'
C_PURPLE = '#7a2ed0'

fig = plt.figure(figsize=(W / 100, H / 100), dpi=100)


def px_axes(l, t, r, b):
    return fig.add_axes([l / W, 1 - b / H, (r - l) / W, (b - t) / H])


def plot_segs(ax, segs, **kw):
    h = None
    for s in segs:
        a = np.array(s, dtype=float)
        h, = ax.plot(a[:, 0], a[:, 1], **kw)
    return h


def style_time_axis(ax, left_visible):
    for sp in ['top', 'right']:
        ax.spines[sp].set_visible(False)
    ax.spines['left'].set_visible(left_visible)
    ax.tick_params(axis='both', direction='out', length=5.5, width=0.8, pad=2.5, labelsize=8)
    ax.tick_params(axis='y', right=False)
    if not left_visible:
        ax.tick_params(axis='y', left=False, labelleft=False)


LEFT = (63, 307)
RIGHT = (318, 550)
XL_LEFT = (-6.27, 60.27)
XL_RIGHT = (-9.3, 67.6)

# ---------------- PANEL (a) ----------------
axa1 = px_axes(LEFT[0], 15, LEFT[1], 198)
axa2 = px_axes(RIGHT[0], 15, RIGHT[1], 198)
for ax, xl, ticks in [(axa1, XL_LEFT, left_tick_hours), (axa2, XL_RIGHT, right_tick_hours)]:
    ax.set_xlim(*xl)
    ax.set_ylim(-0.00994, 0.25)
    ax.set_xticks(ticks)
    ax.set_xticklabels([])
    ax.axhline(0, color='k', lw=0.9, zorder=1)
style_time_axis(axa1, True)
style_time_axis(axa2, False)
axa1.set_yticks([0.0, 0.05, 0.10, 0.15, 0.20, 0.25])
axa1.set_yticklabels(['%.2f' % v for v in [0.0, 0.05, 0.10, 0.15, 0.20, 0.25]])

plot_segs(axa1, tdlif_left, color=C_PINK, lw=0.8, zorder=2)
plot_segs(axa2, tdlif_right, color=C_PINK, lw=0.8, zorder=2)
d = np.array(tdlif_left_dot)
axa1.plot(d[:, 0], d[:, 1], 'o', color=C_PINK, ms=1.2, zorder=2)
plot_segs(axa1, ams_org_left, color=C_BLACK, lw=1.0, zorder=3)
plot_segs(axa2, ams_org_right, color=C_BLACK, lw=1.0, zorder=3)
plot_segs(axa1, ams_inorg_left, color=C_BLUE, lw=0.8, zorder=4)
plot_segs(axa2, ams_inorg_right, color=C_BLUE, lw=0.8, zorder=4)

fig.text(22 / W, 1 - 106 / H, 'Aerosol Nitrate [µg/m$^3$]', rotation=90, ha='center', va='center', fontsize=8)
fig.text(165 / W, 1 - 35 / H, '(a)', ha='center', va='center', fontsize=10)
fig.legend([Line2D([], [], color=C_BLACK, lw=1.2), Line2D([], [], color='#f08ce0', lw=1.2),
            Line2D([], [], color='#5a5aff', lw=1.2)],
           ['AMS Organic Aerosol Nitrate', 'TD-LIF Organic Aerosol Nitrate', 'AMS Inorganic Aerosol Nitrate'],
           loc='upper left', bbox_to_anchor=(361 / W, 1 - 19 / H), frameon=False, fontsize=8,
           handlelength=1.9, handletextpad=0.45, labelspacing=0.32, borderpad=0, borderaxespad=0)

# ---------------- PANEL (c) ----------------
axc1 = px_axes(LEFT[0], 240, LEFT[1], 422)
axc2 = px_axes(RIGHT[0], 240, RIGHT[1], 422)
for ax, xl, ticks, labels in [(axc1, XL_LEFT, left_tick_hours, left_tick_labels),
                              (axc2, XL_RIGHT, right_tick_hours, right_tick_labels)]:
    ax.set_xlim(*xl)
    ax.set_ylim(0.0807, 0.30)
    ax.set_xticks(ticks)
    ax.set_xticklabels(labels, linespacing=1.15)

plot_segs(axc1, ratio_raw_left, color=C_GRAY, lw=0.7, zorder=2)
plot_segs(axc2, ratio_raw_right, color=C_GRAY, lw=0.7, zorder=2)
plot_segs(axc1, ratio_smooth_left, color=C_TEAL, lw=0.9, zorder=3)
plot_segs(axc2, ratio_smooth_right, color=C_TEAL, lw=0.9, zorder=3)

frac = (RIGHT[0] - LEFT[0]) / (LEFT[1] - LEFT[0])
for ax, xmax in [(axc1, frac), (axc2, 1.0)]:
    ax.axhline(r_nh4no3, xmin=0, xmax=xmax, color=C_PURPLE, lw=1.8, ls=(0, (0.8, 0.8)), clip_on=False, zorder=5)
    ax.axhline(r_rono2, xmin=0, xmax=xmax, color='k', lw=1.2, ls=(0, (1, 1)), clip_on=False, zorder=5)

axc1b = axc1.twinx()
axc2b = axc2.twinx()
# style host axes after twinx (twinx re-enables left ticks on the host)
style_time_axis(axc1, True)
style_time_axis(axc2, False)
axc1.tick_params(axis='x', pad=6)
axc2.tick_params(axis='x', pad=6)
axc1.set_yticks([0.10, 0.15, 0.20, 0.25, 0.30])
axc1.set_yticklabels(['%.2f' % v for v in [0.10, 0.15, 0.20, 0.25, 0.30]])

for ax, xl in ((axc1b, XL_LEFT), (axc2b, XL_RIGHT)):
    ax.set_ylim(0, 4)
    ax.set_xlim(*xl)
    for sp in ['top', 'left', 'bottom']:
        ax.spines[sp].set_visible(False)
    ax.tick_params(axis='x', which='both', bottom=False, top=False, labelbottom=False, labeltop=False)
axc1b.spines['right'].set_visible(False)
axc1b.tick_params(axis='y', which='both', left=False, right=False, labelleft=False, labelright=False)
axc2b.set_yticks([0, 1, 2, 3, 4])
axc2b.tick_params(axis='y', which='both', left=False, labelleft=False, right=True, labelright=True,
                  direction='out', length=5.5, width=0.8, pad=2.5, labelsize=8)
plot_segs(axc1b, oa_left, color=C_GREEN, lw=0.9)
plot_segs(axc2b, oa_right, color=C_GREEN, lw=0.9)

fig.text(24 / W, 1 - 327 / H, 'AMS NO$_2^+$/NO$^+$ Ratio', rotation=90, ha='center', va='center', fontsize=8)
fig.text(580 / W, 1 - 331 / H, 'AMS Organic Aerosol [µg/m$^3$]', rotation=270, ha='center', va='center', fontsize=8)
fig.text(310 / W, 1 - 469 / H, 'Local Time [MDT]', ha='center', va='center', fontsize=8)
fig.text(165 / W, 1 - 259 / H, '(c)', ha='center', va='center', fontsize=10)
fig.text(290 / W, 1 - 257 / H, r'R$_{\mathrm{NH4NO3}}$', color=C_PURPLE, ha='left', va='center', fontsize=7.5)
fig.text(293 / W, 1 - 392 / H, r'R$_{\mathrm{RONO}_2}$', color='k', ha='left', va='center', fontsize=7.5)
fig.legend([Line2D([], [], color='#d6d6d6', lw=1.5), Line2D([], [], color='#4cb8c4', lw=1.5),
            Line2D([], [], color='#55d555', lw=1.5)],
           ['NO$_2^+$/NO$^+$ Ratio', r'3-pnt smoothed NO$_2^+$/NO$^+$ Ratio  (R$_{\mathrm{ambient}}$)', 'Organic Aerosol'],
           loc='center left', bbox_to_anchor=(44 / W, 1 - 222 / H), frameon=False, fontsize=8, ncol=3,
           handlelength=1.9, handletextpad=0.45, columnspacing=1.3, borderpad=0, borderaxespad=0)

# break marks
for yb in (194, 423):
    fig.text(311 / W, 1 - yb / H, '//', ha='center', va='center', fontsize=12, fontweight='bold')

# ---------------- PANEL (b) ----------------
axb = px_axes(668, 15, 903, 199)
axb.set_xlim(0, 0.30)
axb.set_ylim(-0.0119, 0.30)
for sp in ['top', 'right']:
    axb.spines[sp].set_visible(False)
axb.tick_params(direction='out', length=5.5, width=0.8, pad=2.5, labelsize=8)
tb = [0.0, 0.05, 0.10, 0.15, 0.20, 0.25, 0.30]
axb.set_xticks(tb)
axb.set_xticklabels(['%.2f' % v for v in tb])
axb.set_yticks(tb)
axb.set_yticklabels(['%.2f' % v for v in tb])
po = np.array(org_nitrate_pts)
pi = np.array(inorg_nitrate_pts)
s_org = axb.scatter(po[:, 0], po[:, 1], s=9, facecolors='none', edgecolors='#3a3a3a', linewidths=0.55, zorder=2)
s_inorg = axb.scatter(pi[:, 0], pi[:, 1], marker='s', s=9, facecolors='none', edgecolors='#4a4aff',
                      linewidths=0.55, zorder=3)
xo = np.array(fit_org_range)
l_org, = axb.plot(xo, fit_org[0] * xo + fit_org[1], color='k', lw=0.9, zorder=4)
xi = np.array(fit_inorg_range)
l_inorg, = axb.plot(xi, fit_inorg[0] * xi + fit_inorg[1], color='#0000ff', lw=1.0, zorder=4)
fig.text(622 / W, 1 - 110 / H, 'AMS Aerosol Nitrate [µg/m$^3$]', rotation=90, ha='center', va='center', fontsize=8)
fig.text(785 / W, 1 - 229 / H, 'TD-LIF organic aerosol nitrate [µg/m$^3$]', ha='center', va='center', fontsize=8)
fig.text(692 / W, 1 - 98 / H, '(b)', ha='center', va='center', fontsize=10)
fig.legend([s_org, l_org, s_inorg, l_inorg],
           ['Organic nitrate', 'Linear Fit (Slope=0.94 , r$^2$=0.53)', 'Inorganic Nitrate',
            'Linear Fit (Slope=0.09 , r$^2$=0.1)'],
           loc='upper left', bbox_to_anchor=(680 / W, 1 - 14 / H), frameon=False, fontsize=7,
           handlelength=1.75, handletextpad=0.5, labelspacing=0.35, borderpad=0, borderaxespad=0,
           scatterpoints=1, markerscale=1.6)

# ---------------- PANEL (d) ----------------
axd = px_axes(668, 240, 903, 422)
axd.set_xlim(0, 1)
axd.set_ylim(0, 1)
for sp in ['top', 'right']:
    axd.spines[sp].set_visible(False)
axd.tick_params(direction='out', length=5.5, width=0.8, pad=2.5, labelsize=8)
td = [0.0, 0.2, 0.4, 0.6, 0.8, 1.0]
axd.set_xticks(td)
axd.set_xticklabels(['%.1f' % v for v in td])
axd.set_yticks(td)
axd.set_yticklabels(['%.1f' % v for v in td])
pb = np.array(nh4_inorganic_pts)
pr = np.array(nh4_organic_pts)
axd.scatter(pb[:, 0], pb[:, 1], marker='s', s=11, color='#3030ff', alpha=0.6, linewidths=0, zorder=2)
axd.scatter(pr[:, 0], pr[:, 1], marker='o', s=14, color='#ff2020', alpha=0.6, linewidths=0, zorder=3)
xb = np.array(fit_nh4_inorg_range)
l_nb, = axd.plot(xb, fit_nh4_inorg[0] * xb + fit_nh4_inorg[1], color='#3060ff', lw=1.0, ls=(0, (1, 1)), zorder=4)
xr = np.array(fit_nh4_org_range)
l_nr, = axd.plot(xr, fit_nh4_org[0] * xr + fit_nh4_org[1], color='#ff1010', lw=1.0, zorder=4)
fig.text(627 / W, 1 - 333 / H, 'AMS Measured NH$_4$ [µg/m$^3$]', rotation=90, ha='center', va='center', fontsize=8)
fig.text(790 / W, 1 - 460 / H, 'AMS predicted NH$_4$  [µg/m$^3$]', ha='center', va='center', fontsize=8)
fig.text(694 / W, 1 - 268 / H, '(d)', ha='center', va='center', fontsize=10)
fig.legend([Line2D([], [], ls='none', marker='s', ms=5, mfc='none', mec='#6a6aff', mew=0.7),
            Line2D([], [], ls='none', marker='o', ms=5, mfc='none', mec='#ff7070', mew=0.7),
            l_nb, l_nr],
           ['All AMS NO$_3$ is inorganic', 'All AMS NO$_3$ is organic', 'Slope=0.918', 'Slope=0.993'],
           loc='upper left', bbox_to_anchor=(777 / W, 1 - 366 / H), frameon=False, fontsize=7,
           handlelength=1.65, handletextpad=0.45, labelspacing=0.18, borderpad=0, borderaxespad=0)

fig.savefig('out.png', dpi=100)
